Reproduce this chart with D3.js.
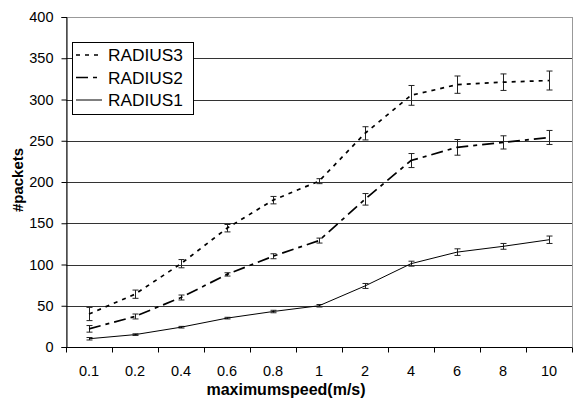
<!DOCTYPE html>
<html>
<head>
<meta charset="utf-8">
<script src="https://cdn.jsdelivr.net/npm/d3@7"></script>
<style>
  body { margin: 0; background: #fff; }
  text { font-family: "Liberation Sans", Arial, sans-serif; }
</style>
</head>
<body>
<div id="chart"></div>
<script>
const width = 576;
const height = 401;

const speeds = ["0.1", "0.2", "0.4", "0.6", "0.8", "1", "2", "4", "6", "8", "10"];
const radius3 = [40, 64, 101, 144, 178, 201, 259, 305, 318, 321, 323];
const radius3Err = [8, 5, 5, 4.5, 4.5, 3, 8, 12, 10.5, 10, 11.5];
const radius2 = [22, 37, 60, 88, 110, 129, 179, 226, 242, 248, 254];
const radius2Err = [4, 3, 3, 2, 3, 3, 7, 8.5, 9.5, 8, 8.5];
const radius1 = [10, 15, 24, 35, 43, 50, 74, 101, 115, 122, 130];
const radius1Err = [1.5, 1, 1, 1, 1.5, 1.5, 3, 3, 4, 3.5, 4.5];
const yTicks = [0, 50, 100, 150, 200, 250, 300, 350, 400];

const serije = [
  { ime: "RADIUS3", vrijednosti: radius3, greske: radius3Err, dash: "4,5", sirina: 1.7 },
  { ime: "RADIUS2", vrijednosti: radius2, greske: radius2Err, dash: "12,5,4,5", sirina: 1.7 },
  { ime: "RADIUS1", vrijednosti: radius1, greske: radius1Err, dash: null, sirina: 1 },
];

const margin = { top: 17, right: 4, bottom: 54, left: 66 };
const plotW = width - margin.left - margin.right;
const plotH = height - margin.top - margin.bottom;

const svg = d3.select("#chart").append("svg")
  .attr("width", width)
  .attr("height", height);

const x = d3.scaleBand().domain(speeds).range([0, plotW]);
const y = d3.scaleLinear().domain([0, 400]).range([plotH, 0]);

const g = svg.append("g").attr("transform", `translate(${margin.left},${margin.top})`);

// okvir podrucja grafa
g.append("rect")
  .attr("x", 0.5).attr("y", 0.5)
  .attr("width", plotW).attr("height", plotH)
  .attr("fill", "none")
  .attr("stroke", "#999");

// gridlines
g.selectAll(".grid")
  .data(yTicks.filter((t) => t > 0 && t < 400))
  .join("line")
  .attr("x1", 0).attr("x2", plotW)
  .attr("y1", (d) => Math.round(y(d)) + 0.5)
  .attr("y2", (d) => Math.round(y(d)) + 0.5)
  .attr("stroke", "#333");

// y os
const yAxis = g.append("g")
  .attr("transform", "translate(0.5,0)")
  .call(d3.axisLeft(y).tickValues(yTicks).tickSize(5).tickPadding(8));
yAxis.select(".domain").attr("stroke", "#000");
yAxis.selectAll(".tick line").attr("stroke", "#000");
yAxis.selectAll("text").attr("font-size", 14.5).attr("fill", "#000");

// x os (crtice izmedu kategorija)
const xAxis = g.append("g").attr("transform", `translate(0,${plotH + 0.5})`);
xAxis.append("line")
  .attr("x1", 0).attr("x2", plotW)
  .attr("stroke", "#000");
xAxis.selectAll(".xt")
  .data(speeds.concat(["kraj"]))
  .join("line")
  .attr("x1", (d, i) => Math.round(i * x.bandwidth()) + 0.5)
  .attr("x2", (d, i) => Math.round(i * x.bandwidth()) + 0.5)
  .attr("y1", 0).attr("y2", 5)
  .attr("stroke", "#000");
xAxis.selectAll(".xl")
  .data(speeds)
  .join("text")
  .attr("x", (d) => x(d) + x.bandwidth() / 2)
  .attr("y", 28)
  .attr("text-anchor", "middle")
  .attr("font-size", 14.5)
  .text((d) => d);

const line = d3.line()
  .x((d, i) => x(speeds[i]) + x.bandwidth() / 2)
  .y((d) => y(d));

serije.forEach((s) => {
  // error bars
  const eb = g.append("g");
  s.vrijednosti.forEach((v, i) => {
    const cx = Math.round(x(speeds[i]) + x.bandwidth() / 2) + 0.5;
    const top = y(v + s.greske[i]);
    const bot = y(v - s.greske[i]);
    eb.append("line").attr("x1", cx).attr("x2", cx).attr("y1", top).attr("y2", bot)
      .attr("stroke", "#222");
    eb.append("line").attr("x1", cx - 3).attr("x2", cx + 3).attr("y1", top).attr("y2", top)
      .attr("stroke", "#222");
    eb.append("line").attr("x1", cx - 3).attr("x2", cx + 3).attr("y1", bot).attr("y2", bot)
      .attr("stroke", "#222");
  });

  g.append("path")
    .datum(s.vrijednosti)
    .attr("d", line)
    .attr("fill", "none")
    .attr("stroke", "#000")
    .attr("stroke-width", s.sirina)
    .attr("stroke-dasharray", s.dash);
});

// legenda
const leg = svg.append("g").attr("transform", "translate(72,42)");
leg.append("rect")
  .attr("x", 0.5).attr("y", 0.5)
  .attr("width", 121).attr("height", 72)
  .attr("fill", "#fff")
  .attr("stroke", "#000");
serije.forEach((s, i) => {
  const ly = 13 + i * 22.5;
  leg.append("line")
    .attr("x1", 4).attr("x2", 30)
    .attr("y1", ly).attr("y2", ly)
    .attr("stroke", "#000")
    .attr("stroke-width", s.sirina)
    .attr("stroke-dasharray", s.dash);
  leg.append("text")
    .attr("x", 36).attr("y", ly + 6)
    .attr("font-size", 16)
    .attr("textLength", 75)
    .attr("lengthAdjust", "spacingAndGlyphs")
    .text(s.ime);
});

// naslovi osi
svg.append("text")
  .attr("x", 286).attr("y", 395)
  .attr("text-anchor", "middle")
  .attr("font-size", 16)
  .attr("font-weight", "bold")
  .text("maximumspeed(m/s)");

svg.append("text")
  .attr("transform", "translate(23,180) rotate(-90)")
  .attr("text-anchor", "middle")
  .attr("font-size", 15)
  .attr("font-weight", "bold")
  .text("#packets");
</script>
</body>
</html>
